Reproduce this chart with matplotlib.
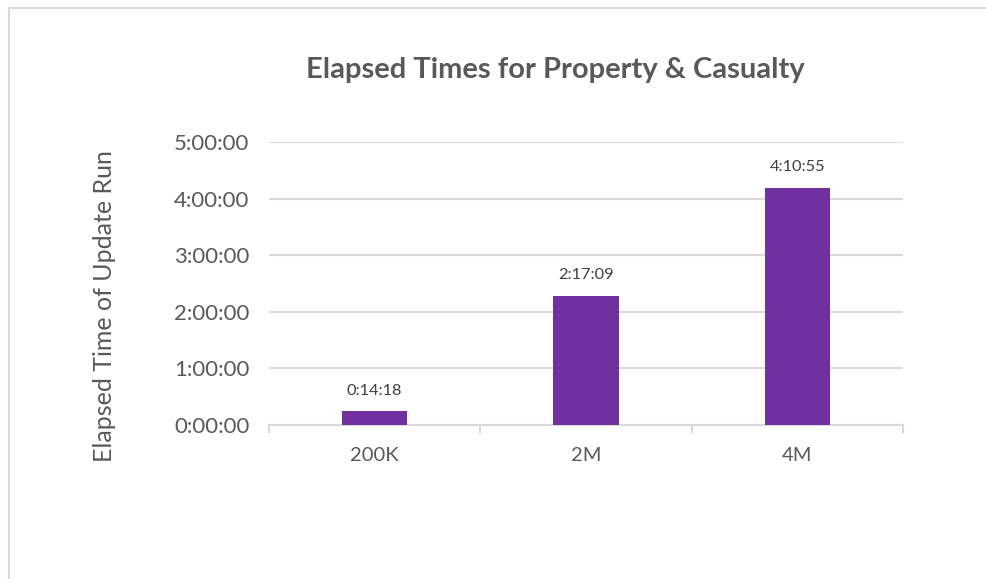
import matplotlib
matplotlib.use("Agg")
import matplotlib.pyplot as plt
from matplotlib.patches import Rectangle
from matplotlib.ticker import FuncFormatter

# data (seconds)
categories = ["200K", "2M", "4M"]
elapsed = [858, 8229, 15055]  # 0:14:18, 2:17:09, 4:10:55


def hms(s, pos=None):
    s = int(round(s))
    return "{}:{:02d}:{:02d}".format(s // 3600, (s % 3600) // 60, s % 60)


plt.rcParams['font.family'] = ['Lato', 'DejaVu Sans']

fig = plt.figure(figsize=(9.87, 5.79), dpi=100)
ax = fig.add_axes([0.2725, 0.266, 0.6424, 0.4888])

x = list(range(len(categories)))
ax.bar(x, elapsed, width=0.31, color="#7030a0", zorder=3)
for xi, v in zip(x, elapsed):
    ax.annotate(hms(v), (xi, v), xytext=(0, 10), textcoords="offset points",
                ha="center", va="bottom", fontsize=11.8, color="#404040")

ax.set_xlim(-0.5, 2.5)
ax.set_ylim(0, 18000)
ax.set_yticks(range(0, 18001, 3600))
ax.yaxis.set_major_formatter(FuncFormatter(hms))
ax.grid(axis="y", color="#d9d9d9", linewidth=1.5, zorder=0)

ax.set_xticks(x)
ax.set_xticklabels(categories)
ax.set_xticks([-0.5, 0.5, 1.5, 2.5], minor=True)
ax.tick_params(axis="x", which="major", length=0, pad=16, labelsize=14.5, labelcolor="#595959")
ax.tick_params(axis="x", which="minor", length=6, width=1.5, color="#d9d9d9")
ax.tick_params(axis="y", length=0, pad=14, labelsize=16, labelcolor="#595959")

for side in ["top", "right", "left"]:
    ax.spines[side].set_visible(False)
ax.spines["bottom"].set_color("#d9d9d9")
ax.spines["bottom"].set_linewidth(1.5)

ax.set_ylabel("Elapsed Time of Update Run", fontsize=18, color="#595959")
ax.yaxis.set_label_coords(-0.241, 0.42)
fig.text(0.563, 0.879, "Elapsed Times for Property & Casualty", ha="center", va="center",
         fontsize=21, fontweight="bold", color="#595959")

# outer chart frame (only left and top edges visible)
fig.patches.append(Rectangle((9 / 987, -0.1), 1.2, 1.1 - 8 / 579, transform=fig.transFigure,
                             fill=False, edgecolor="#d9d9d9", linewidth=1.5))

fig.savefig("out.png", dpi=100)
